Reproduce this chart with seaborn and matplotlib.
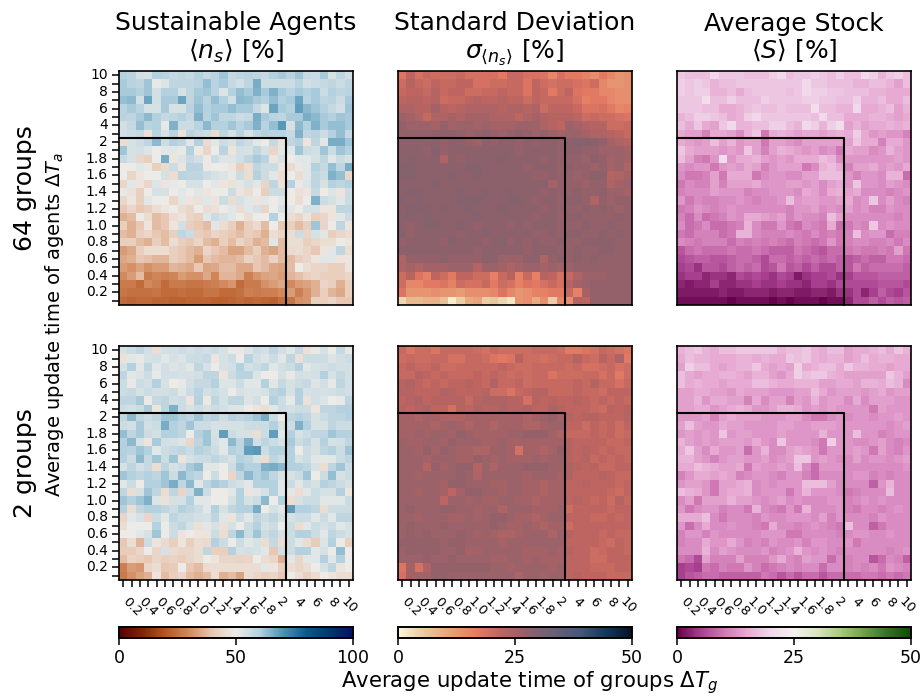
# 64 groups vs 2 groups, heatmaps of the update time sweep
import numpy as np
import matplotlib
matplotlib.use('Agg')
import matplotlib.pyplot as plt
from matplotlib.colors import LinearSegmentedColormap
import seaborn as sns

# update times, same for groups and agents
times = [0.1, 0.2, 0.3, 0.4, 0.5, 0.6, 0.7, 0.8, 0.9, 1.0, 1.1, 1.2, 1.3, 1.4, 1.5, 1.6, 1.7, 1.8, 1.9, 2, 3, 4, 5, 6, 7, 8, 9, 10]

# rows go from dT_a = 10 (top) down to dT_a = 0.1 (bottom)
agents_64 = [
[60,59,55,54,60, 59,57,58,57,60, 57,59,62,57,58, 59,58,57,60,61, 59,62,57,56,61, 54,58,55],
[61,59,58,62,51, 53,58,58,58,59, 63,59,61,57,55, 58,66,56,56,56, 56,59,55,56,57, 58,56,58],
[61,61,60,62,55, 60,60,54,58,61, 62,59,53,60,63, 61,65,61,65,61, 59,61,60,61,56, 60,58,59],
[63,64,55,67,55, 61,61,67,58,62, 59,63,60,55,64, 63,61,60,63,60, 61,67,59,61,58, 59,56,61],
[59,61,59,54,54, 61,54,54,59,63, 60,61,61,63,61, 61,57,53,67,61, 60,68,64,62,60, 57,55,62],
[59,58,61,64,60, 57,58,60,57,65, 59,62,58,58,56, 57,66,61,59,58, 61,61,66,64,61, 60,62,61],
[55,57,63,59,60, 51,65,56,56,59, 64,60,60,62,59, 61,65,59,63,69, 54,64,60,65,61, 63,63,61],
[55,56,57,47,59, 54,59,47,59,57, 56,45,58,54,59, 54,58,60,59,59, 57,65,58,59,56, 60,63,57],
[46,54,56,58,64, 56,60,58,52,60, 45,52,56,54,58, 56,52,50,57,47, 58,60,48,58,52, 66,66,62],
[62,54,55,53,50, 52,52,51,60,49, 44,50,59,48,55, 54,58,54,44,52, 52,62,56,55,62, 56,62,60],
[57,54,44,42,50, 66,48,53,57,55, 49,56,53,53,55, 58,61,59,48,54, 50,52,52,54,58, 52,56,54],
[50,50,52,51,42, 45,56,48,59,59, 49,50,50,48,42, 46,58,56,56,48, 45,51,52,60,57, 63,58,66],
[50,44,48,50,50, 54,46,59,58,58, 56,54,53,51,56, 46,60,56,52,46, 50,46,52,58,56, 65,63,44],
[44,52,48,44,53, 48,51,50,54,54, 50,52,48,47,52, 54,52,44,58,47, 60,51,53,58,54, 60,58,60],
[51,47,42,50,54, 54,50,52,50,52, 48,50,50,56,48, 46,50,42,56,56, 50,47,48,57,50, 53,48,56],
[44,48,42,52,50, 50,44,52,48,47, 52,48,56,46,54, 52,48,52,50,52, 50,46,50,65,56, 54,52,56],
[40,44,40,42,46, 48,50,46,44,50, 46,47,50,52,46, 52,54,44,50,54, 52,50,54,54,48, 48,58,58],
[36,38,50,46,38, 40,46,48,44,42, 52,56,54,52,50, 46,50,50,60,50, 46,44,48,42,44, 48,52,56],
[42,36,40,48,38, 40,48,55,42,40, 38,52,46,42,36, 42,45,38,50,40, 42,38,42,62,44, 50,58,48],
[38,36,42,44,40, 38,42,58,56,42, 40,44,42,40,38, 42,40,36,46,44, 46,56,44,54,52, 42,44,46],
[42,42,38,36,42, 38,46,42,40,44, 38,36,42,38,44, 40,36,38,52,38, 46,46,42,44,46, 46,50,48],
[33,35,42,46,46, 46,42,40,38,36, 44,40,38,34,34, 38,42,36,34,38, 45,46,44,40,48, 52,58,46],
[35,36,40,39,37, 37,42,40,38,33, 40,38,37,37,38, 43,40,38,43,38, 38,42,44,48,52, 52,48,48],
[33,31,34,31,33, 33,37,36,35,40, 34,35,38,38,35, 35,40,38,35,34, 38,50,46,44,44, 42,42,48],
[30,33,38,27,29, 28,29,33,31,31, 35,29,37,37,35, 28,32,34,35,33, 37,39,42,44,42, 42,42,44],
[27,27,24,30,28, 24,27,27,26,26, 27,28,30,32,24, 27,27,31,33,35, 30,33,34,36,44, 42,36,42],
[26,25,25,25,26, 24,24,25,24,24, 26,26,24,24,25, 28,27,28,28,30, 33,28,32,36,42, 37,35,42],
[24,23,24,24,23, 23,22,22,23,23, 23,22,22,23,24, 23,24,23,22,25, 26,31,32,42,42, 44,40,40],
]

agents_2 = [
[54,56,58,55,46, 55,55,56,55,56, 55,56,54,51,51, 53,56,55,58,55, 52,57,47,51,54, 50,57,51],
[47,52,51,54,55, 52,54,53,56,56, 57,48,54,56,50, 59,55,53,56,52, 58,47,56,56,56, 53,55,56],
[54,60,52,58,52, 55,53,54,52,58, 54,50,54,55,60, 55,56,58,52,55, 56,60,52,54,55, 56,55,55],
[58,52,53,56,51, 55,55,54,54,55, 58,58,48,56,59, 59,53,50,50,54, 51,55,54,55,60, 54,57,55],
[56,51,56,55,60, 54,50,51,55,57, 57,60,53,53,56, 52,52,60,52,57, 54,56,57,53,55, 51,58,55],
[56,57,54,56,55, 55,56,52,56,59, 55,56,54,50,54, 53,53,54,58,60, 54,60,54,55,54, 55,56,55],
[58,58,61,49,57, 58,55,56,48,60, 49,58,54,58,58, 53,55,50,60,56, 51,60,47,55,53, 50,51,58],
[56,55,56,61,48, 58,65,56,54,56, 54,56,55,53,53, 50,48,46,52,56, 55,56,56,48,58, 58,60,60],
[58,64,58,56,58, 62,62,60,58,62, 58,60,56,60,58, 60,62,66,56,50, 58,60,58,54,56, 58,58,60],
[56,55,61,55,56, 66,60,58,62,56, 56,54,54,54,54, 56,56,56,60,54, 56,65,60,54,54, 58,56,56],
[63,58,61,56,55, 60,60,58,50,60, 62,54,68,56,54, 54,46,56,68,52, 60,54,56,58,58, 62,60,60],
[60,64,54,48,61, 55,54,53,44,58, 62,55,52,64,58, 65,55,58,56,54, 61,56,58,54,60, 54,55,58],
[60,59,62,60,52, 56,57,58,56,60, 58,56,52,60,58, 68,69,56,60,60, 60,50,56,54,58, 60,56,62],
[60,56,64,57,62, 56,62,48,54,56, 56,58,56,54,60, 58,54,46,58,56, 60,54,56,52,52, 52,56,58],
[54,58,55,57,46, 58,54,56,61,63, 52,52,50,56,62, 60,60,65,66,64, 60,60,58,54,46, 58,62,56],
[62,60,58,60,58, 62,56,64,60,58, 50,56,50,44,58, 64,60,62,58,54, 54,56,62,50,56, 63,54,56],
[52,56,50,60,60, 62,66,58,64,52, 58,61,60,56,54, 52,60,60,60,52, 56,52,56,54,60, 58,56,54],
[58,46,54,62,58, 46,58,44,56,65, 56,50,50,52,60, 48,52,54,60,52, 52,46,52,56,54, 54,60,48],
[62,60,62,65,53, 47,54,54,60,52, 52,50,50,54,60, 54,56,64,50,60, 46,54,56,56,52, 52,52,56],
[60,46,58,60,60, 58,56,60,58,56, 52,60,54,58,60, 60,66,50,54,52, 68,60,60,58,46, 56,56,56],
[44,52,54,44,56, 52,58,56,56,55, 54,58,52,48,56, 52,58,56,58,54, 54,56,56,52,56, 52,58,58],
[46,50,50,50,60, 50,56,58,54,47, 52,54,47,54,50, 56,60,54,56,50, 56,46,52,56,54, 56,52,54],
[50,50,52,54,62, 50,56,48,50,48, 48,56,46,58,64, 56,62,56,58,54, 56,60,60,56,52, 58,56,54],
[40,46,37,56,48, 45,42,48,42,46, 45,60,56,50,56, 52,54,46,57,46, 56,52,46,41,53, 60,50,42],
[41,41,44,50,44, 54,45,44,44,46, 58,42,42,60,54, 55,54,52,40,55, 56,60,60,52,54, 50,63,50],
[38,43,42,40,44, 42,43,42,44,46, 50,48,44,44,43, 44,50,46,44,36, 52,44,52,52,60, 52,60,50],
[28,33,32,44,46, 40,41,50,40,38, 45,46,46,46,46, 46,46,52,48,42, 46,44,46,50,54, 58,48,50],
[27,31,34,36,48, 38,42,44,38,36, 38,46,36,38,34, 46,44,42,44,40, 50,46,42,46,50, 48,46,46],
]

std_64 = [
[18,22,19,21,20, 20,20,21,19,19, 19,19,17,21,21, 19,19,18,15,19, 17,17,16,14,17, 15,13,14],
[20,23,21,20,22, 21,21,22,22,19, 19,20,20,21,21, 18,22,20,19,20, 20,19,18,20,15, 13,13,14],
[21,22,22,21,23, 21,22,22,20,20, 21,21,22,21,21, 18,22,21,17,20, 22,18,17,17,15, 15,14,14],
[22,23,23,22,23, 20,21,21,22,23, 22,22,23,22,22, 20,22,21,21,21, 21,19,16,17,17, 15,14,14],
[24,24,23,23,25, 23,22,23,24,24, 24,24,23,24,24, 23,24,20,22,22, 22,21,18,18,19, 17,15,16],
[26,25,24,21,24, 24,25,24,25,25, 25,24,24,24,22, 24,25,24,23,23, 23,22,20,21,20, 20,19,18],
[27,26,26,26,25, 27,25,26,26,25, 26,25,25,25,26, 26,26,24,23,22, 26,25,24,23,23, 20,20,21],
[27,27,27,27,28, 28,28,27,26,27, 28,27,26,27,28, 27,26,27,26,25, 26,26,25,24,24, 23,22,21],
[28,28,28,28,28, 27,28,28,27,26, 28,27,28,28,27, 28,27,28,28,27, 28,29,29,28,27, 25,24,23],
[28,28,28,27,29, 27,28,28,28,28, 28,28,28,28,27, 28,28,28,28,27, 28,28,27,27,26, 26,26,25],
[28,29,28,28,28, 24,28,27,28,28, 28,28,29,28,28, 28,28,27,28,27, 27,27,26,28,27, 25,26,25],
[29,29,28,28,28, 28,28,28,29,29, 28,28,28,28,28, 27,28,28,28,27, 28,27,27,26,27, 25,26,24],
[29,29,28,28,28, 28,29,28,28,29, 28,28,28,28,28, 28,27,27,28,27, 27,26,27,28,28, 23,24,25],
[28,28,28,28,29, 28,28,28,28,28, 28,28,28,28,28, 28,28,28,25,27, 27,27,26,27,27, 24,25,26],
[28,29,29,28,28, 28,28,29,28,28, 29,28,28,29,28, 28,28,27,28,27, 27,28,27,27,28, 26,26,25],
[29,28,29,28,28, 28,28,29,29,29, 28,28,28,29,29, 28,27,28,28,27, 28,28,27,24,27, 26,27,27],
[28,29,29,29,28, 29,28,28,29,28, 28,28,29,28,28, 28,28,27,28,27, 27,27,28,27,28, 27,26,27],
[28,29,28,29,28, 28,28,28,28,29, 28,28,28,28,28, 28,27,28,28,27, 28,28,27,27,27, 27,28,27],
[28,27,28,29,29, 28,28,29,28,27, 28,28,28,27,28, 27,28,28,28,27, 27,27,28,27,27, 28,27,27],
[29,27,28,28,28, 28,28,27,28,28, 29,28,28,28,28, 28,27,27,28,27, 28,28,27,27,28, 27,28,27],
[27,28,28,28,28, 27,29,28,28,28, 27,28,29,27,28, 27,28,27,27,28, 27,27,28,28,28, 28,27,27],
[28,28,28,28,28, 28,28,28,28,27, 28,28,28,28,28, 27,28,28,28,27, 27,28,27,27,28, 28,27,27],
[24,27,27,27,27, 28,27,27,27,27, 28,28,26,26,26, 28,28,24,27,28, 27,28,27,28,27, 27,27,27],
[24,25,24,25,25, 25,26,26,26,23, 26,26,25,24,25, 26,26,25,26,25, 26,27,27,27,27, 27,27,27],
[20,23,18,16,22, 20,17,22,22,20, 20,16,21,23,16, 21,16,23,22,19, 21,24,26,26,26, 27,27,27],
[20,15,15,17,17, 18,16,20,19,19, 21,17,20,19,16, 18,17,19,21,19, 23,25,26,27,27, 27,27,27],
[18,13,13,13,14, 13,13,12,14,14, 14,15,18,15,13, 14,16,16,17,17, 21,16,25,27,27, 27,27,27],
[4,8,8,9,9, 7,1,5,10,11, 5,6,4,2,13, 14,10,14,5,15, 14,23,22,27,27, 27,27,27],
]

std_2 = [
[21,18,20,20,18, 21,21,21,21,20, 19,21,20,20,20, 20,21,21,21,20, 17,17,18,19,21, 20,19,18],
[20,21,20,20,21, 21,19,19,21,21, 20,18,17,18,23, 20,20,19,20,21, 21,23,21,20,23, 21,24,17],
[21,22,21,21,22, 20,20,21,21,21, 21,21,22,21,20, 20,21,21,21,21, 20,21,19,19,20, 21,19,20],
[21,21,23,22,21, 22,21,21,21,22, 21,22,21,20,21, 20,21,21,18,20, 20,20,21,21,19, 21,17,20],
[23,24,22,21,22, 21,22,22,23,22, 21,24,21,21,22, 20,21,21,21,21, 21,22,21,23,21, 21,19,21],
[23,23,22,22,22, 24,23,22,22,22, 23,20,20,18,21, 22,23,23,21,21, 21,22,21,21,20, 22,22,22],
[22,23,24,22,23, 23,23,23,21,23, 24,24,24,23,23, 19,23,22,23,22, 22,23,22,21,22, 21,22,21],
[23,22,23,24,22, 22,19,23,22,24, 23,23,24,23,23, 24,22,22,24,23, 22,22,22,21,20, 23,22,23],
[25,25,24,25,25, 24,24,24,25,25, 25,25,25,25,25, 24,25,26,27,25, 23,22,23,23,22, 22,22,23],
[25,25,25,25,24, 25,26,25,24,25, 25,24,25,25,25, 24,24,25,26,26, 22,22,20,22,21, 22,20,22],
[25,25,26,25,26, 26,25,27,26,25, 25,25,25,26,26, 27,27,27,25,24, 21,21,21,22,21, 22,20,21],
[26,25,25,26,26, 25,27,26,26,26, 25,25,26,25,25, 25,25,25,25,25, 23,22,22,22,22, 21,21,22],
[26,26,25,27,25, 27,26,25,25,24, 24,26,26,25,19, 25,25,24,25,27, 23,22,23,22,21, 22,21,21],
[26,26,26,25,26, 26,26,25,25,27, 26,25,26,25,25, 25,26,25,26,26, 23,22,23,21,22, 21,22,21],
[26,26,26,23,27, 25,26,27,27,23, 26,24,26,26,26, 27,27,27,26,26, 24,23,22,23,21, 21,22,22],
[26,26,25,26,26, 26,26,27,26,24, 26,26,26,26,26, 25,26,26,26,25, 24,22,22,22,23, 22,21,21],
[26,26,26,26,26, 25,27,27,26,26, 26,25,25,26,26, 25,25,24,25,25, 22,22,23,22,22, 22,21,22],
[26,26,25,26,26, 25,22,25,27,27, 26,26,25,26,26, 25,25,24,25,25, 22,22,22,22,22, 21,20,22],
[26,26,26,26,26, 22,26,26,25,26, 25,25,26,26,25, 25,24,25,25,25, 22,23,22,21,22, 20,23,21],
[26,27,26,26,26, 27,27,26,26,25, 26,26,24,26,26, 26,25,25,25,26, 20,22,22,22,22, 21,22,22],
[26,26,25,26,26, 26,25,25,26,25, 26,27,27,26,25, 25,24,25,26,26, 22,22,22,21,21, 22,21,22],
[26,27,26,26,26, 27,26,26,26,26, 26,27,26,25,25, 26,25,24,25,25, 20,22,22,22,22, 22,22,22],
[26,27,26,27,26, 26,26,27,26,25, 26,25,24,24,25, 26,26,26,24,26, 23,22,22,22,21, 22,21,21],
[27,27,27,27,27, 26,27,27,26,26, 26,26,25,26,26, 26,26,26,26,26, 22,22,22,22,21, 20,22,21],
[26,27,27,27,27, 26,26,27,25,25, 26,26,26,26,26, 25,25,25,26,25, 23,22,22,20,21, 22,22,21],
[26,26,26,27,26, 26,27,26,26,26, 26,25,25,26,26, 25,26,25,25,25, 22,22,22,20,20, 22,22,22],
[18,25,19,24,27, 27,27,27,27,27, 27,26,26,25,26, 26,26,26,25,26, 22,22,22,21,21, 21,22,22],
[19,25,25,25,27, 27,26,26,26,26, 26,26,26,26,24, 26,26,25,26,26, 22,23,22,22,22, 21,21,21],
]

stock_64 = [
[18,17,17,17,20, 18,18,18,17,17, 17,19,20,17,18, 18,19,18,17,19, 17,17,20,19,16, 18,19,17],
[19,18,19,18,16, 17,17,18,18,18, 18,18,18,18,18, 20,18,18,17,17, 17,16,16,17,17, 16,14,17],
[19,18,19,19,16, 16,17,15,17,18, 18,18,18,17,18, 20,19,19,18,18, 17,17,17,16,16, 15,15,15],
[18,18,18,21,17, 17,19,17,17,17, 19,18,18,18,18, 19,19,18,18,17, 17,19,16,16,17, 15,15,17],
[18,18,18,17,17, 15,15,16,17,18, 17,17,18,17,17, 17,21,17,17,16, 16,20,15,15,16, 17,14,16],
[16,17,19,19,18, 17,15,16,19,20, 18,18,18,18,18, 18,17,20,17,17, 15,15,15,16,16, 15,14,15],
[17,15,18,15,14, 18,20,16,16,17, 17,19,19,17,16, 20,19,16,19,21, 14,16,14,15,15, 16,15,16],
[15,14,14,11,15, 15,14,12,16,18, 10,15,16,15,14, 15,15,14,15,16, 15,19,15,13,14, 13,13,11],
[15,14,13,14,17, 14,16,13,14,14, 10,14,14,13,12, 14,14,14,14,14, 14,18,15,15,11, 15,15,13],
[18,15,14,14,14, 13,14,13,18,14, 11,14,16,15,14, 13,14,12,13,10, 15,14,14,12,13, 16,14,13],
[17,14,11,10,13, 21,13,15,15,16, 14,13,14,13,15, 15,15,17,16,12, 13,13,13,13,13, 13,14,13],
[13,12,13,13,10, 13,14,13,15,14, 11,13,14,14,14, 10,12,16,17,15, 11,14,14,15,13, 14,13,15],
[12,10,10,11,14, 10,15,15,15,10, 12,13,13,12,12, 14,14,17,17,17, 13,11,13,13,12, 16,16,9],
[10,12,11,11,14, 11,14,14,14,15, 13,13,13,14,14, 13,14,12,14,15, 13,18,13,13,12, 14,13,12],
[11,12,12,12,14, 13,13,13,11,12, 12,13,13,13,12, 15,14,12,15,16, 14,15,12,12,12, 11,12,13],
[13,10,12,11,11, 12,12,13,12,11, 12,12,13,17,13, 14,14,13,13,14, 15,12,13,18,12, 14,12,11],
[10,11,13,12,11, 12,13,12,12,12, 12,12,12,11,13, 13,14,12,13,12, 14,12,13,11,11, 13,12,12],
[11,9,12,9,10, 11,13,12,15,15, 14,13,14,11,13, 12,12,11,17,14, 12,12,12,12,12, 12,11,12],
[12,9,10,12,9, 9,10,11,16,12, 10,10,13,10,9, 12,11,10,15,9, 10,12,11,18,12, 13,12,12],
[10,9,11,11,11, 9,10,16,16,12, 11,11,11,12,11, 10,12,10,11,10, 11,17,12,13,13, 9,11,11],
[12,11,10,11,11, 11,9,11,10,11, 10,11,10,9,11, 10,9,10,13,10, 11,12,12,11,11, 12,10,12],
[7,9,10,9,9, 9,10,9,9,10, 9,8,8,8,10, 9,8,7,9,9, 10,11,10,10,11, 10,14,10],
[6,7,8,8,7, 7,8,9,9,8, 6,9,9,8,9, 8,9,8,9,8, 7,8,9,8,8, 10,10,9],
[5,6,4,7,7, 6,8,9,8,9, 6,7,10,7,8, 6,8,6,6,8, 7,10,8,9,9, 9,9,8],
[4,5,5,3,4, 4,3,6,5,6, 5,4,6,5,2, 4,5,5,6,4, 5,7,7,7,8, 8,8,8],
[3,2,3,3,5, 3,3,4,4,5, 4,4,5,4,4, 3,5,5,4,6, 6,6,6,6,7, 7,7,6],
[2,2,2,2,2, 3,2,2,3,3, 3,2,3,3,2, 2,3,3,2,4, 4,6,3,5,8, 6,5,7],
[1,1,1,1,1, 1,0,1,1,1, 1,0,1,0,1, 1,1,0,1,1, 3,6,6,8,6, 8,7,8],
]

stock_2 = [
[16,17,18,16,15, 17,17,18,18,18, 18,18,16,17,17, 18,16,15,17,17, 14,15,15,16,17, 15,18,16],
[15,17,16,16,15, 15,15,16,16,15, 16,15,15,18,17, 18,16,15,16,16, 14,15,17,15,16, 16,15,15],
[14,19,17,17,15, 14,15,16,16,18, 15,14,15,14,19, 15,16,17,17,15, 18,16,16,15,15, 14,15,15],
[17,15,14,15,15, 16,16,15,14,16, 16,14,13,15,19, 17,18,18,16,15, 14,14,14,14,14, 18,16,14],
[17,15,16,15,15, 14,15,15,15,17, 17,16,15,15,16, 16,16,14,14,15, 15,14,16,16,15, 17,16,12],
[14,14,15,15,14, 14,13,15,14,14, 14,13,13,13,14, 14,17,15,13,14, 14,14,13,14,15, 13,14,14],
[14,14,16,13,15, 15,14,14,11,15, 12,14,14,11,14, 13,16,13,14,14, 12,15,12,14,14, 14,13,13],
[14,14,15,15,13, 14,15,16,15,13, 13,14,16,16,15, 13,14,13,14,13, 13,13,13,10,14, 13,13,13],
[13,13,13,14,11, 14,15,14,14,14, 13,13,13,14,14, 12,10,10,12,13, 12,13,13,12,13, 13,14,13],
[14,17,14,13,13, 15,14,14,13,13, 13,13,14,14,13, 13,14,14,14,13, 13,13,13,13,13, 12,13,14],
[13,14,13,14,13, 18,13,14,14,13, 13,13,14,13,13, 13,13,16,13,13, 13,17,13,13,11, 12,13,13],
[16,14,13,14,13, 14,14,14,13,15, 13,12,18,13,13, 13,12,10,19,13, 13,12,12,13,14, 12,11,12],
[15,18,14,12,15, 13,13,14,9,13, 16,12,12,14,15, 14,13,10,13,13, 13,14,13,10,14, 12,11,13],
[16,16,14,13,11, 13,14,14,13,13, 14,12,13,14,18, 18,13,14,13,12, 12,14,12,13,13, 12,13,14],
[15,15,17,16,15, 14,14,15,10,14, 13,13,14,13,17, 12,9,13,13,13, 12,12,12,12,12, 12,12,13],
[11,13,15,15,14, 15,14,11,12,13, 13,12,11,13,13, 11,9,12,12,12, 12,13,13,11,12, 11,12,12],
[13,14,14,13,10, 14,14,15,16,12, 13,12,13,13,13, 17,17,17,14,12, 12,12,12,8,13, 16,12,12],
[17,16,15,13,10, 14,15,15,16,12, 13,13,13,10,13, 16,13,13,13,12, 10,11,12,12,12, 17,12,12],
[12,14,10,14,14, 14,16,14,14,13, 12,13,14,12,13, 12,12,12,13,13, 11,12,13,12,13, 12,12,12],
[13,10,12,13,13, 11,12,12,10,16, 12,11,10,13,10, 16,12,12,12,13, 11,10,12,12,11, 12,13,12],
[15,15,15,17,12, 10,12,12,12,11, 13,12,12,13,13, 13,12,14,11,13, 12,12,12,11,13, 12,12,12],
[13,9,12,15,12, 12,13,12,12,11, 10,15,12,12,11, 12,13,12,11,10, 17,12,12,8,10, 12,12,12],
[11,13,13,11,13, 12,12,12,12,12, 13,13,13,10,10, 12,12,12,12,11, 12,13,13,12,12, 13,12,12],
[11,12,12,15,13, 13,15,13,11,12, 11,13,12,12,13, 11,13,13,12,12, 13,10,12,12,12, 12,12,12],
[12,12,12,16,12, 14,13,12,12,12, 13,11,12,13,16, 13,12,13,12,11, 12,12,12,12,12, 11,12,13],
[10,9,6,14,11, 11,11,14,11,11, 11,13,15,12,11, 14,13,13,9,12, 11,12,12,7,9, 12,11,8],
[5,6,5,10,9, 11,10,10,13,11, 9,10,11,12,11, 12,12,9,12,12, 11,12,11,12,10, 13,12,11],
[5,7,8,9,9, 8,8,8,8,8, 10,9,7,9,7, 9,9,7,9,9, 9,9,10,10,9, 10,9,10],
]

# colormaps
agents_colors = ['#590008', '#7f2606', '#b65725', '#d28a5e', '#e8c8b4', '#eeece8', '#b4d1df', '#4f93b3', '#0c5a8a', '#03366e', '#001261']
std_colors = ['#fdf5da', '#e9c99f', '#e7a279', '#e57b62', '#bc6461', '#8e616c', '#6b5f76', '#47587a', '#13385a', '#031326']
stock_colors = ['#65024b', '#a8408f', '#cf78b4', '#e7abd4', '#f1d8eb', '#f5f2ef', '#d9e5bf', '#a9c97f', '#6f9f4e', '#37702a', '#0c4c00']
agents_cmap = LinearSegmentedColormap.from_list('agents', agents_colors)
std_cmap = LinearSegmentedColormap.from_list('std', std_colors)
stock_cmap = LinearSegmentedColormap.from_list('stock', stock_colors)

titles = ['Sustainable Agents\n$\\langle n_s \\rangle$ [%]',
          'Standard Deviation\n$\\sigma_{\\langle n_s \\rangle}$ [%]',
          'Average Stock\n$\\langle S \\rangle$ [%]']
cmaps = [agents_cmap, std_cmap, stock_cmap]
vmaxes = [100, 50, 50]
cbar_ticks = [[0, 50, 100], [0, 25, 50], [0, 25, 50]]
top_data = [agents_64, std_64, stock_64]
bottom_data = [agents_2, std_2, stock_2]

# labels only on every second cell, the last part of the axis is coarser
x_labels = [('' if i % 2 == 0 else (str(t) if t >= 2 else f'{t:.1f}')) for i, t in enumerate(times)]
y_labels = x_labels[::-1]

W, H = 924, 698
col_left = [119, 398, 677]
ax_size = 234


def make_ax(fig, x, y, w, h):
    return fig.add_axes([x / W, 1 - (y + h) / H, w / W, h / H])


sns.set_style('ticks')
plt.rcParams['font.family'] = ['DejaVu Sans']
plt.rcParams.update({'text.color': 'black', 'axes.labelcolor': 'black', 'axes.edgecolor': 'black',
                     'xtick.color': 'black', 'ytick.color': 'black'})
fig = plt.figure(figsize=(W / 100, H / 100), dpi=100)

for j in range(3):
    ax_top = make_ax(fig, col_left[j], 71, ax_size, ax_size)
    ax_bot = make_ax(fig, col_left[j], 346, ax_size, ax_size)
    cax = make_ax(fig, col_left[j], 627, ax_size, 11)

    sns.heatmap(np.array(top_data[j]), ax=ax_top, cmap=cmaps[j], vmin=0, vmax=vmaxes[j], cbar=False,
                xticklabels=x_labels, yticklabels=y_labels)
    sns.heatmap(np.array(bottom_data[j]), ax=ax_bot, cmap=cmaps[j], vmin=0, vmax=vmaxes[j], cbar_ax=cax,
                cbar_kws={'orientation': 'horizontal', 'ticks': cbar_ticks[j]},
                xticklabels=x_labels, yticklabels=y_labels)

    for ax in [ax_top, ax_bot]:
        for s in ax.spines.values():
            s.set_visible(True)
            s.set_linewidth(1.2)
            s.set_color('black')
        # the fast update region, 0.1 to 2 on both axes
        ax.plot([0, 20, 20], [8, 8, 28], color='black', lw=1.5, clip_on=False)
        ax.tick_params(axis='y', length=5, width=1.1, labelsize=10, rotation=0, pad=3,
                       left=(j == 0), labelleft=(j == 0))
        ax.tick_params(axis='x', length=5, width=1.1, labelsize=9.5, pad=6)
    ax_top.tick_params(axis='x', bottom=False, labelbottom=False)
    for lab in ax_bot.get_xticklabels():
        lab.set_rotation(-45)
        lab.set_ha('center')
    ax_top.set_title(titles[j], fontsize=18, pad=9, linespacing=1.1)

    cax.tick_params(length=5, width=1.1, labelsize=12.5, pad=3)
    for s in cax.spines.values():
        s.set_visible(True)
        s.set_linewidth(1.2)

fig.text(25 / W, 1 - 188 / H, '64 groups', rotation=90, fontsize=18, ha='center', va='center')
fig.text(25 / W, 1 - 463 / H, '2 groups', rotation=90, fontsize=18, ha='center', va='center')
fig.text(55 / W, 1 - 325 / H, 'Average update time of agents $\\Delta T_a$', rotation=90, fontsize=14, ha='center', va='center')
fig.text(530 / W, 1 - 683 / H, 'Average update time of groups $\\Delta T_g$', fontsize=15.3, ha='center', va='center')

fig.savefig('out.png', dpi=100)
